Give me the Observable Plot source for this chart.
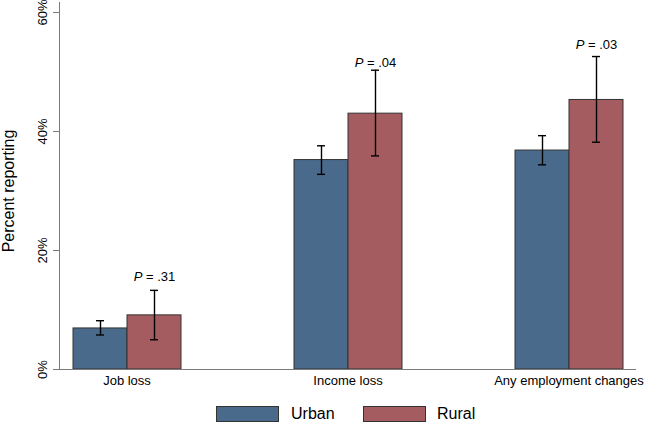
<!DOCTYPE html>
<html><head><meta charset="utf-8">
<script src="https://cdn.jsdelivr.net/npm/d3@7"></script>
<script src="https://cdn.jsdelivr.net/npm/@observablehq/plot@0.6"></script>
<style>
body{margin:0;background:#fff;font-family:"Liberation Sans",Arial,sans-serif;}
#chart{position:relative;width:648px;height:423px;overflow:hidden;}
#chart svg{display:block;}
#legend{position:absolute;left:0;top:396px;width:648px;height:27px;}
.sw{position:absolute;top:10px;width:63px;height:16px;box-sizing:border-box;border:1px solid #333;}
.lt{position:absolute;top:8px;font-size:16px;line-height:20px;color:#000;}
</style></head><body><div id="chart"></div>
<script>
// ---- data ----
const categories = ["Job loss", "Income loss", "Any employment changes"];
const groups = ["Urban", "Rural"];
const urbanPct = [6.9, 35.2, 36.8];
const urbanLo  = [5.8, 32.8, 34.4];
const urbanHi  = [8.2, 37.6, 39.3];
const ruralPct = [9.1, 43.0, 45.3];
const ruralLo  = [5.0, 35.9, 38.2];
const ruralHi  = [13.3, 50.3, 52.6];
const pValues  = [".31", ".04", ".03"];
const pLabelY  = [15.6, 51.6, 54.6];
const yTicks   = [0, 20, 40, 60];

const blue = "#4a6a8b", red = "#a55c61", axisGray = "#7a7a7a";

const data = [];
categories.forEach((c, i) => {
  data.push({category: c, group: "Urban", value: urbanPct[i], lo: urbanLo[i], hi: urbanHi[i]});
  data.push({category: c, group: "Rural", value: ruralPct[i], lo: ruralLo[i], hi: ruralHi[i]});
});
const pData = categories.map((c, i) => ({category: c, group: "Rural", label: "P = " + pValues[i], y: pLabelY[i]}));

const W = 648, H = 396, mL = 58, mR = 12, mT = 12, mB = 27;
const padInner = 0.39;
const step = (W - mL - mR) / (categories.length - padInner);
const gap = step * padInner;

const plot = Plot.plot({
  width: W, height: H, marginLeft: mL, marginRight: mR, marginTop: mT, marginBottom: mB,
  style: {fontFamily: "Liberation Sans, Arial, sans-serif", fontSize: "13px", color: "#000", background: "#fff"},
  fx: {domain: categories, paddingInner: padInner, paddingOuter: 0, axis: null, label: null},
  x: {domain: groups, paddingInner: 0, paddingOuter: 0.23, axis: null},
  y: {domain: [0, 60], axis: null},
  color: {domain: groups, range: [blue, red]},
  marks: [
    Plot.barY(data, {fx: "category", x: "group", y: "value", fill: "group", stroke: "#333", strokeWidth: 1}),
    Plot.ruleX(data, {fx: "category", x: "group", y1: "lo", y2: "hi", stroke: "#000", strokeWidth: 1.4}),
    Plot.tickY(data, {fx: "category", x: "group", y: "lo", stroke: "#000", strokeWidth: 1.4, insetLeft: 23, insetRight: 23}),
    Plot.tickY(data, {fx: "category", x: "group", y: "hi", stroke: "#000", strokeWidth: 1.4, insetLeft: 23, insetRight: 23}),
    Plot.text(pData, {fx: "category", x: "group", y: "y", text: "label", fontSize: 13, fill: "#000"}),
    Plot.frame({anchor: "left", facetAnchor: "left", insetTop: -10, stroke: axisGray}),
    Plot.ruleY([0], {facetAnchor: "left", y: () => 0, insetLeft: -6, stroke: axisGray}),
    Plot.ruleY(categories.slice(1), {fx: d => d, y: () => 0, insetLeft: -gap, stroke: axisGray}),
    Plot.axisY({ticks: yTicks, tickFormat: d => d + "%", tickSize: 6, tickPadding: 7, tickRotate: -90, stroke: axisGray, label: null, fontSize: 13}),
    Plot.text(["Percent reporting"], {frameAnchor: "left", facetAnchor: "left", textAnchor: "middle", rotate: -90, dx: -51, fontSize: 16, fill: "#000"}),
    Plot.axisFx({anchor: "bottom", tickSize: 0, tickPadding: 6, label: null, fontSize: 13})
  ]
});

// italic "P" in the p-value labels
plot.querySelectorAll("text").forEach(t => {
  const s = t.textContent;
  if (/^P = /.test(s) && t.children.length === 0) {
    t.textContent = "";
    const a = document.createElementNS("http://www.w3.org/2000/svg", "tspan");
    a.setAttribute("font-style", "italic");
    a.textContent = "P";
    const b = document.createElementNS("http://www.w3.org/2000/svg", "tspan");
    b.textContent = s.slice(1);
    t.appendChild(a); t.appendChild(b);
  }
});

const chart = document.getElementById("chart");
chart.appendChild(plot);

// legend below the plot
const legend = document.createElement("div");
legend.id = "legend";
const items = [{g: groups[0], c: blue, sx: 216, tx: 291}, {g: groups[1], c: red, sx: 363, tx: 437}];
items.forEach(it => {
  const sw = document.createElement("div");
  sw.className = "sw"; sw.style.left = it.sx + "px"; sw.style.background = it.c;
  const tx = document.createElement("div");
  tx.className = "lt"; tx.style.left = it.tx + "px"; tx.textContent = it.g;
  legend.appendChild(sw); legend.appendChild(tx);
});
chart.appendChild(legend);
</script></body></html>
